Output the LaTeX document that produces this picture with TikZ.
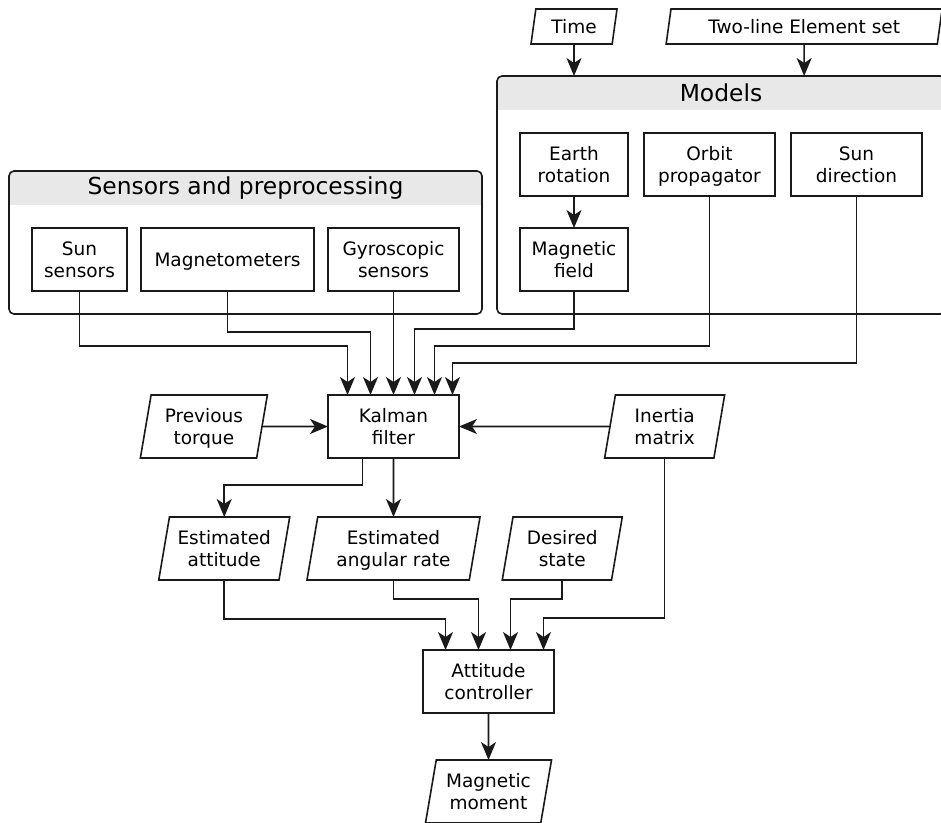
\documentclass[tikz,border=0pt]{standalone}
\usepackage{fontspec}
\setmainfont{DejaVu Sans}
\usepackage{tikz}
\usetikzlibrary{shapes.geometric,arrows.meta,positioning,fit}
\definecolor{HeadGray}{HTML}{E8E8E8}
\definecolor{LineBlack}{HTML}{1A1A1A}

\begin{document}
\begin{tikzpicture}[
  x=1pt, y=-1pt,
  node distance=14pt,
  block/.style={
    rectangle, draw=LineBlack, line width=1.6pt, outer sep=0pt,
    font=\fontsize{18.5}{22}\selectfont,
    minimum width=131pt, minimum height=63pt, inner sep=2pt, align=center,
    text depth=0pt,
  },
  io/.style={
    block, trapezium, trapezium left angle=75, trapezium right angle=105,
    trapezium stretches body,
  },
  group/.style={rectangle, inner sep=23pt, outer sep=0pt},
  grouptitle/.style={font=\fontsize{23.4}{28}\selectfont},
  frame/.style={draw=LineBlack, line width=1.6pt, rounded corners=5pt},
  arrow/.style={-{Stealth[length=18pt,width=15pt,inset=5pt]}, line width=1.6pt, color=LineBlack},
]
  \useasboundingbox (0,0) rectangle (941,822);

  \node[block] (kalman) at (393.5,426.5) {Kalman\\filter};
  \node[block, above=104pt of kalman] (gyro) {Gyroscopic\\sensors};
  \node[block, left=of gyro, minimum width=173pt] (magnet) {Magnetometers};
  \node[block, left=of magnet, minimum width=95pt] (sunsen) {Sun\\sensors};
  \node[block, right=61pt of gyro, minimum width=108pt] (magfield) {Magnetic\\field};
  \node[block, above=32pt of magfield, minimum width=108pt] (earth) {Earth\\rotation};
  \node[block, right=16pt of earth] (orbit) {Orbit\\propagator};
  \node[block, right=16pt of orbit] (sundir) {Sun\\direction};

  \coordinate (senshead) at ([yshift=34pt]sunsen.north);
  \node[group, fit=(senshead)(sunsen)(gyro)] (sensors) {};
  \coordinate (modhead) at ([yshift=34pt]earth.north);
  \node[group, fit=(modhead)(earth)(sundir)(magfield)] (models) {};
  \foreach \grp in {sensors,models} {
    \begin{scope}
      \clip[rounded corners=5pt] (\grp.south west) rectangle (\grp.north east);
      \fill[HeadGray] (\grp.north west) rectangle ([yshift=-34pt]\grp.north east);
    \end{scope}
    \draw[frame] (\grp.south west) rectangle (\grp.north east);
  }
  \node[grouptitle] (senstitle) at ([yshift=-17pt]sensors.north) {Sensors and preprocessing};
  \node[grouptitle] (modtitle) at ([yshift=-17pt]models.north) {Models};

  \node[io, above=89pt of earth, minimum width=86pt, minimum height=35pt] (time) {Time};
  \node[io, right=54pt of time, minimum width=276pt, minimum height=35pt] (tle) {Two-line Element set};

  \node[io, left=66pt of kalman, minimum width=127pt] (prevtq) {Previous\\torque};
  \node[io, right=151pt of kalman, minimum width=120pt] (inertia) {Inertia\\matrix};
  \node[io, below=59pt of kalman, minimum width=173pt] (estrate) {Estimated\\angular rate};
  \node[io, left=28pt of estrate] (estatt) {Estimated\\attitude};
  \node[io, right=33pt of estrate, minimum width=120pt] (desired) {Desired\\state};
  \node[block, below=70pt of estrate, xshift=95pt] (attctrl) {Attitude\\controller};
  \node[io, below=47pt of attctrl, minimum width=126pt] (magmom) {Magnetic\\moment};

  \draw[arrow] (time) -- (time |- models.north);
  \draw[arrow] (tle) -- (tle |- models.north);
  \draw[arrow] (earth) -- (magfield);
  \draw[arrow] (sunsen.south) -- ++(0,55) -| ([xshift=-46pt]kalman.north);
  \draw[arrow] (magnet.south) -- ++(0,41) -| ([xshift=-23pt]kalman.north);
  \draw[arrow] (gyro) -- (kalman);
  \draw[arrow] (magfield.south) -- ++(0,38) -| ([xshift=21pt]kalman.north);
  \draw[arrow] (orbit.south) -- ++(0,150) -| ([xshift=41pt]kalman.north);
  \draw[arrow] (sundir.south) -- ++(0,167) -| ([xshift=59pt]kalman.north);
  \draw[arrow] (prevtq) -- (kalman);
  \draw[arrow] (inertia) -- (kalman);
  \draw[arrow] ([xshift=-31pt]kalman.south) -- ++(0,27) -| (estatt.north);
  \draw[arrow] (kalman) -- (estrate);
  \draw[arrow] (estatt.south) -- ++(0,39) -| ([xshift=-43pt]attctrl.north);
  \draw[arrow] (estrate.south) -- ++(0,19) -| ([xshift=-10pt]attctrl.north);
  \draw[arrow] (desired.south) -- ++(0,19) -| ([xshift=22pt]attctrl.north);
  \draw[arrow] (inertia.south) -- ++(0,160) -| ([xshift=55pt]attctrl.north);
  \draw[arrow] (attctrl) -- (magmom);
\end{tikzpicture}
\end{document}
